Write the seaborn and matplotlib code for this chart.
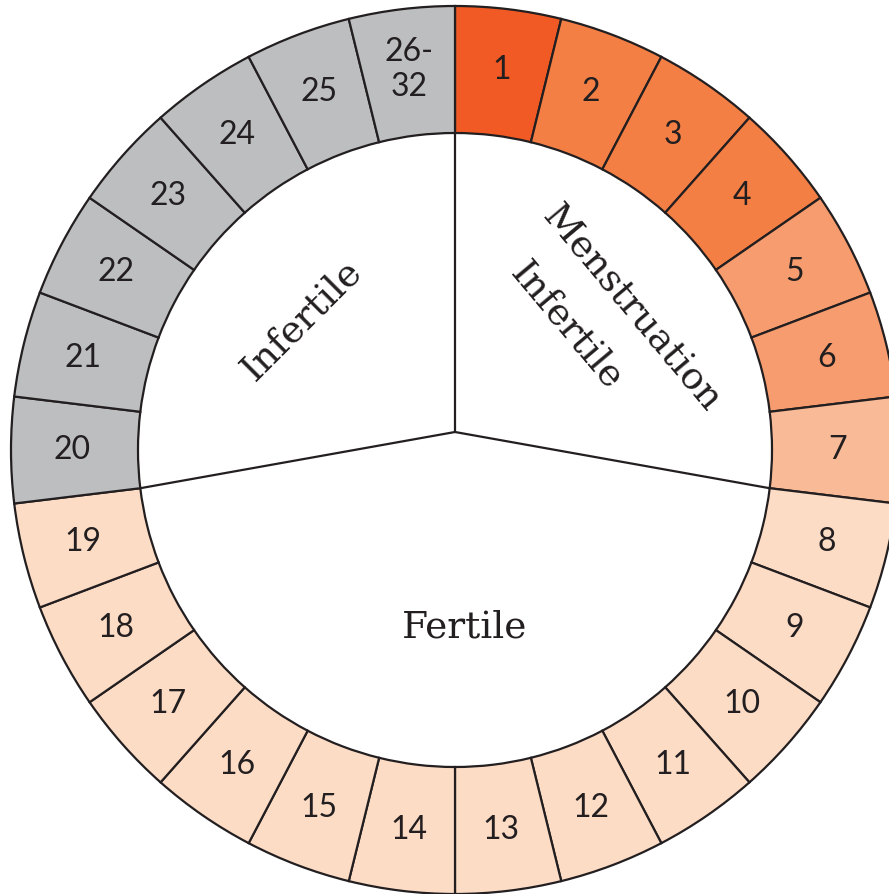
import numpy as np
import matplotlib.pyplot as plt
import seaborn as sns

# cycle days shown round the ring (last block groups days 26-32)
day_labels = [str(d) for d in range(1, 26)] + ['26-\n32']
day_groups = (['peak'] + ['heavy'] * 3 + ['medium'] * 2 + ['light']
              + ['fertile'] * 12 + ['infertile'] * 7)

# phases in the inner disc and how many ring blocks each covers
phase_names = ['Menstruation\nInfertile', 'Fertile', 'Infertile']
phase_days = [7, 12, 7]

palette = {
    'peak': '#F15A24',
    'heavy': '#F47F45',
    'medium': '#F69C6E',
    'light': '#F9BA97',
    'fertile': '#FDDCC6',
    'infertile': '#BCBEC0',
}
ink = '#231F20'

sns.set_theme(style='white')
plt.rcParams['font.family'] = ['DejaVu Serif']

R_OUT, R_IN, R_LAB = 444, 317, 383

fig = plt.figure(figsize=(8.89, 8.94), dpi=100)
ax = fig.add_axes([0, 0, 1, 1])

n = len(day_labels)
ax.pie(np.ones(n), radius=R_OUT, startangle=90, counterclock=False,
       colors=[palette[g] for g in day_groups],
       wedgeprops=dict(width=R_OUT - R_IN, edgecolor=ink, linewidth=1.6))

# day numbers in the middle of each block
step = 360 / n
for i, lab in enumerate(day_labels):
    a = np.deg2rad(90 - (i + 0.5) * step)
    ax.text(R_LAB * np.cos(a), R_LAB * np.sin(a), lab, ha='center', va='center',
            fontsize=23, color=ink, family=['Lato', 'DejaVu Sans'],
            fontweight='normal', linespacing=1.2)

# dividers of the inner disc meet slightly above the centre
junction = (0, 18)
bounds = np.cumsum([0] + phase_days[:-1])
for b in bounds:
    a = np.deg2rad(90 - b * step)
    ax.plot([junction[0], R_IN * np.cos(a)], [junction[1], R_IN * np.sin(a)],
            color=ink, lw=1.6, solid_capstyle='butt')

# phase names (one text per line)
phase_text = [
    [((176, 141), -50), ((111, 124), -50)],
    [((10, -177), 0)],
    [((-153, 130), 45)],
]
for name, placements in zip(phase_names, phase_text):
    for line, ((x, y), rot) in zip(name.split('\n'), placements):
        ax.text(x, y, line, ha='center', va='center', rotation=rot,
                rotation_mode='anchor', fontsize=27, color=ink)

ax.set_xlim(-455, 434)
ax.set_ylim(-444, 450)
ax.set_aspect('equal')
ax.axis('off')

fig.savefig('out.png', dpi=100, facecolor='white')
